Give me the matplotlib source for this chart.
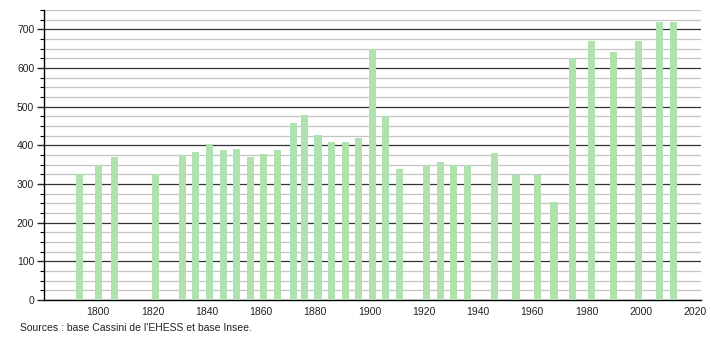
import matplotlib
matplotlib.use("Agg")
import matplotlib.pyplot as plt
from matplotlib.ticker import MultipleLocator

years = [1793, 1800, 1806, 1821, 1831, 1836, 1841, 1846, 1851, 1856, 1861, 1866,
         1872, 1876, 1881, 1886, 1891, 1896, 1901, 1906, 1911, 1921, 1926, 1931,
         1936, 1946, 1954, 1962, 1968, 1975, 1982, 1990, 1999, 2007, 2012]
population = [326, 349, 369, 326, 376, 384, 404, 389, 391, 371, 378, 389,
              459, 479, 427, 408, 408, 420, 649, 477, 339, 349, 357, 348,
              349, 381, 323, 323, 254, 627, 671, 641, 669, 718, 720]
source_text = "Sources : base Cassini de l'EHESS et base Insee."

plt.rcParams['font.family'] = ['Liberation Sans', 'DejaVu Sans']

fig = plt.figure(figsize=(7.1, 3.4), dpi=100)
ax = fig.add_axes([44/710, 40/340, 657/710, 290/340])

ax.bar(years, population, width=2.6, color='#b0e2b0', zorder=3)

ax.set_xlim(1780, 2022.2)
ax.set_ylim(0, 750)
ax.xaxis.set_major_locator(MultipleLocator(20))
ax.yaxis.set_major_locator(MultipleLocator(100))
ax.yaxis.set_minor_locator(MultipleLocator(25))

ax.grid(axis='y', which='major', color='#333333', linewidth=0.9, zorder=1)
ax.grid(axis='y', which='minor', color='#c4c4c4', linewidth=0.9, zorder=1)

for side in ['top', 'right']:
    ax.spines[side].set_visible(False)
ax.spines['left'].set_linewidth(1.0)
ax.spines['bottom'].set_linewidth(1.0)

ax.tick_params(axis='x', length=0, labelsize=7.5, pad=5, colors='#222222')
ax.tick_params(axis='y', which='major', length=5, width=1, labelsize=7.5, pad=2, colors='#222222')
ax.tick_params(axis='y', which='minor', length=3, width=0.8)
ax.set_xticks(range(1800, 2021, 20))
ax.set_xticklabels([str(y) for y in range(1800, 2021, 20)])

fig.text(20/710, 1 - 328/340, source_text, fontsize=7.5, va='center', ha='left', color='#222222')

fig.savefig("out.png", dpi=100)
